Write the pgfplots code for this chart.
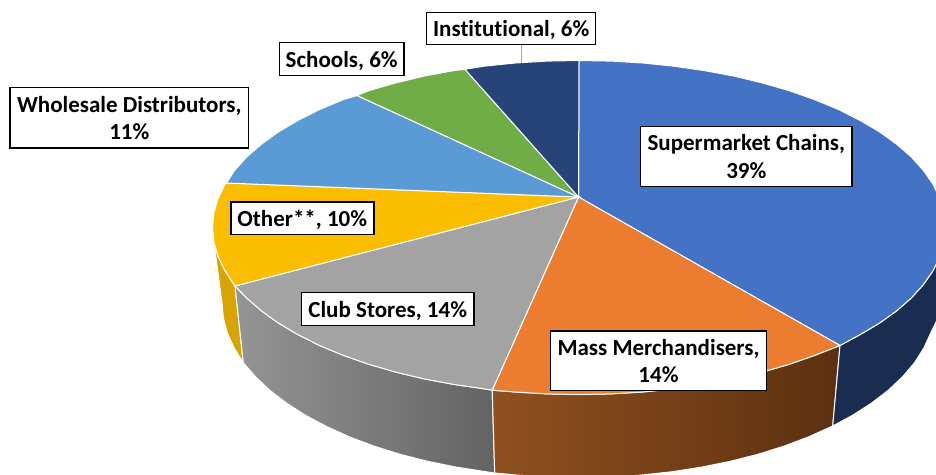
\documentclass[border=0pt]{standalone}
\usepackage{fontspec}
\setmainfont{Carlito}[Ligatures=NoCommon]
\usepackage{pgfplots}
\pgfplotsset{compat=1.18}
\definecolor{cSuper}{HTML}{4472C4}
\definecolor{cMass}{HTML}{EC7C30}
\definecolor{cClub}{HTML}{A3A3A3}
\definecolor{cOther}{HTML}{FBBD00}
\definecolor{cWhole}{HTML}{5B9BD5}
\definecolor{cSchool}{HTML}{70AD47}
\definecolor{cInst}{HTML}{264478}
\definecolor{sSuper}{HTML}{1A2C4F}
\definecolor{sMassA}{HTML}{905020}
\definecolor{sMassB}{HTML}{6A3815}
\definecolor{sMassC}{HTML}{5C3010}
\definecolor{sClubA}{HTML}{959595}
\definecolor{sClubB}{HTML}{636363}
\definecolor{sOther}{HTML}{D9A300}
\tikzset{lab/.style={draw=black,line width=1.4pt,fill=white,inner sep=0pt,align=center,
  font=\fontsize{23}{27.5}\selectfont\bfseries,text=black,anchor=center},
  one/.style={lab,minimum height=32.5pt,text height=16pt,text depth=0pt}}
\newcommand{\firstline}{\rule{0pt}{16.5pt}}
\begin{document}
\begin{tikzpicture}
\useasboundingbox (0,0) rectangle (936pt,474pt);
\begin{axis}[
  at={(0,0)},anchor=south west,
  scale only axis,width=936pt,height=474pt,
  xmin=0,xmax=936,ymin=0,ymax=474,y dir=reverse,
  hide axis,clip=true]
% side faces
\addplot[draw=white,line width=1pt,fill=sOther] coordinates {
(235,286)(225.0,270.7)(218.1,256.5)(213.9,242.1)(222.0,302.8)(223.4,318.1)(227.4,333.2)(234.2,348.1)(243.3,362.7)} --cycle;
\addplot[draw=white,line width=1pt,left color=sClubA,right color=sClubB] coordinates {
(492.2,390.2)(484.1,388.8)(453.7,384.4)(424.1,378.9)(395.7,372.1)(368.8,364.3)(343.4,355.4)(319.8,345.6)(298.3,334.8)(278.8,323.3)(261.6,311.0)(246.8,298.1)(235,286)
(243.3,362.7)(255.5,376.8)(269.8,390.3)(286.6,403.2)(305.5,415.3)(326.6,426.5)(349.5,436.9)(374.2,446.2)(400.5,454.4)(428.1,461.4)(456.9,467.2)(486.6,471.8)(494.7,473)} --cycle;
\addplot[draw=white,line width=1pt,left color=sMassA,middle color=sMassB,right color=sMassC] coordinates {
(840,345.5)(814.6,355.4)(789.2,364.3)(762.3,372.1)(733.9,378.9)(704.3,384.4)(673.9,388.8)(642.6,392.0)(611.0,393.9)(579.0,394.5)(547.0,393.9)(515.4,392.0)(492.2,390.2)
(494.7,473)(517.0,475.1)(547.9,477.1)(579,477.8)(610.1,477.1)(641.0,475.1)(671.4,471.8)(701.1,467.2)(729.9,461.4)(757.5,454.4)(783.8,446.2)(808.5,436.9)(832.7,426)} --cycle;
\addplot[draw=white,line width=1pt,fill=sSuper] coordinates {
(840,345.5)(859.7,334.8)(879.2,323.3)(896.4,311.0)(911.2,298.1)(923.4,284.6)(933.0,270.7)(939.9,256.5)(944.1,242.1)(941,303)(937,320)
(930.6,333.2)(923.8,348.1)(914.5,362.7)(902.5,376.8)(888.2,390.3)(871.4,403.2)(852.5,415.3)(832.7,426)} --cycle;
% top faces
\addplot[draw=white,line width=1pt,fill=cSuper] coordinates {
(578.5,197)(579.0,60.5)(611.0,61.1)(642.6,63.0)(673.9,66.2)(704.3,70.6)(733.9,76.1)(762.3,82.9)(789.2,90.7)(814.6,99.6)(838.2,109.4)(859.7,120.2)(879.2,131.7)(896.4,144.0)(911.2,156.9)(923.4,170.4)(933.0,184.3)(939.9,198.5)(944.1,212.9)(945.5,227.5)(944.1,242.1)(939.9,256.5)(933.0,270.7)(923.4,284.6)(911.2,298.1)(896.4,311.0)(879.2,323.3)(859.7,334.8)(840,345.5)} --cycle;
\addplot[draw=white,line width=1pt,fill=cMass] coordinates {
(578.5,197)(840,345.5)(814.6,355.4)(789.2,364.3)(762.3,372.1)(733.9,378.9)(704.3,384.4)(673.9,388.8)(642.6,392.0)(611.0,393.9)(579.0,394.5)(547.0,393.9)(515.4,392.0)(492.2,390.2)} --cycle;
\addplot[draw=white,line width=1pt,fill=cClub] coordinates {
(578.5,197)(492.2,390.2)(484.1,388.8)(453.7,384.4)(424.1,378.9)(395.7,372.1)(368.8,364.3)(343.4,355.4)(319.8,345.6)(298.3,334.8)(278.8,323.3)(261.6,311.0)(246.8,298.1)(235,286)} --cycle;
\addplot[draw=white,line width=1pt,fill=cOther] coordinates {
(578.5,197)(235,286)(225.0,270.7)(218.1,256.5)(213.9,242.1)(212.5,227.5)(213.9,212.9)(218.1,198.5)(225.0,184.3)(226.5,183)} --cycle;
\addplot[draw=white,line width=1pt,fill=cWhole] coordinates {
(578.5,197)(226.5,183)(234.6,170.4)(246.8,156.9)(261.6,144.0)(278.8,131.7)(298.3,120.2)(319.8,109.4)(343.4,99.6)(357,95.5)} --cycle;
\addplot[draw=white,line width=1pt,fill=cSchool] coordinates {
(578.5,197)(357,95.5)(368.8,90.7)(395.7,82.9)(424.1,76.1)(453.7,70.6)(465,69.3)} --cycle;
\addplot[draw=white,line width=1pt,fill=cInst] coordinates {
(578.5,197)(465,69.3)(484.1,66.2)(515.4,63.0)(547.0,61.1)(579.0,60.5)} --cycle;
% leader line
\addplot[draw=black!35,line width=1.1pt] coordinates {(521.5,45)(521.5,62.5)};
% labels
\node[one,minimum width=169pt] at (axis cs:511.2,28.5) {Institutional, 6\%};
\node[one,minimum width=124.5pt] at (axis cs:341.7,59) {Schools, 6\%};
\node[lab,minimum width=238.5pt,minimum height=60.5pt] at (axis cs:129.3,117.7) {\firstline Wholesale Distributors,\\11\%};
\node[one,minimum width=143pt] at (axis cs:302.3,218.3) {Other**, 10\%};
\node[one,minimum width=172.5pt] at (axis cs:387.7,309) {Club Stores, 14\%};
\node[lab,minimum width=215.5pt,minimum height=59.5pt] at (axis cs:658.5,360.8) {\firstline Mass Merchandisers,\\14\%};
\node[lab,minimum width=211.5pt,minimum height=60pt] at (axis cs:746.3,156.5) {\firstline Supermarket Chains,\\39\%};
\end{axis}
\end{tikzpicture}
\end{document}
